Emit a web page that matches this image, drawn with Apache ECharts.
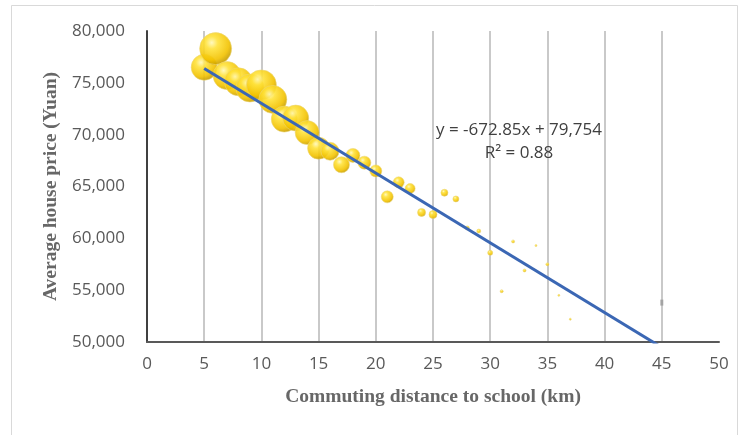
<!DOCTYPE html>
<html>
<head>
<meta charset="utf-8">
<script src="https://cdn.jsdelivr.net/npm/echarts@6/dist/echarts.min.js"></script>
<style>html,body{margin:0;padding:0;background:#fff}#c{width:746px;height:435px}</style>
</head>
<body>
<div id="c"></div>
<script>
// Data
var distanceKm = [5,6,7,8,9,10,11,12,13,14,15,16,17,18,19,20,21,22,23,24,25,26,27,28,29,30,31,32,33,34,35,36,37];
var avgPrice = [76500,78300,75700,75100,74500,74800,73400,71500,71600,70200,68700,68400,67100,68000,67300,66500,64000,65400,64800,62500,62300,64400,63800,61000,60700,58600,54900,59700,56900,59300,57500,54500,52200];
var bubbleSize = [26,32,28,28,28,30,28,26,26,24,22,18,16,14,13,12,12,11,10,8,8,7,6,4,4,5,3,3,3,2,3,2,2];
var outlierDistance = [45];
var outlierPrice = [53800];
var trendSlope = -672.85;
var trendIntercept = 79754;
var trendLabel = ['y = -672.85x + 79,754', 'R\u00b2 = 0.88'];
var xTicks = [0,5,10,15,20,25,30,35,40,45,50];
var yTicks = [50000,55000,60000,65000,70000,75000,80000];

var bubbles = distanceKm.map(function(d,i){return [d, avgPrice[i], bubbleSize[i]];});
var outliers = outlierDistance.map(function(d,i){return [d, outlierPrice[i]];});
var allX = distanceKm.concat(outlierDistance);
var xMin = Math.min.apply(null, allX), xMax = Math.max.apply(null, allX);
var trend = [[xMin, trendSlope*xMin+trendIntercept],[xMax, trendSlope*xMax+trendIntercept]];

var gridColors = xTicks.map(function(t,i){return i===xTicks.length-1 ? 'rgba(0,0,0,0)' : '#c9c9c9';});
var labelFont = '"Open Sans", "Noto Sans", sans-serif';
var chart = echarts.init(document.getElementById('c'));
chart.setOption({
  backgroundColor:'#ffffff',
  animation:false,
  grid:{left:147,right:27,top:31,bottom:93},
  xAxis:{
    type:'value', min:xTicks[0], max:xTicks[xTicks.length-1], interval:5,
    name:'Commuting distance to school (km)', nameLocation:'middle', nameGap:45,
    nameTextStyle:{fontFamily:'"Liberation Serif", serif', fontWeight:'bold', fontSize:19.5, color:'#676767'},
    axisLine:{show:true, onZero:false, lineStyle:{color:'#595959', width:2}},
    axisTick:{show:false},
    axisLabel:{fontFamily:labelFont, fontSize:17, color:'#595959', margin:14},
    splitLine:{show:true, lineStyle:{color:gridColors, width:2}}
  },
  yAxis:{
    type:'value', min:yTicks[0], max:yTicks[yTicks.length-1], interval:5000,
    name:'Average house price (Yuan)', nameLocation:'middle', nameGap:85,
    nameTextStyle:{fontFamily:'"Liberation Serif", serif', fontWeight:'bold', fontSize:19.5, color:'#676767'},
    axisLine:{show:true, lineStyle:{color:'#404040', width:2}},
    axisTick:{show:false},
    axisLabel:{fontFamily:labelFont, fontSize:17, color:'#595959', margin:22,
      formatter:function(v){return v.toLocaleString('en-US');}},
    splitLine:{show:false}
  },
  graphic:[
    {type:'rect', shape:{x:11.5,y:5.5,width:726,height:440}, style:{fill:null, stroke:'#d9d9d9', lineWidth:1}, silent:true, z:-10},
    {type:'text', x:519, y:130, style:{text:trendLabel[0], font:'17px "Open Sans", sans-serif', fill:'#404040', textAlign:'center', textVerticalAlign:'middle'}, z:100},
    {type:'text', x:519, y:153, style:{text:trendLabel[1], font:'17px "Open Sans", sans-serif', fill:'#404040', textAlign:'center', textVerticalAlign:'middle'}, z:100}
  ],
  series:[
    {
      type:'scatter', data:bubbles,
      symbolSize:function(v){return v[2];},
      itemStyle:{
        opacity:0.9,
        color:new echarts.graphic.RadialGradient(0.38,0.32,0.75,[
          {offset:0,color:'#fff8b8'},
          {offset:0.25,color:'#ffe23a'},
          {offset:0.7,color:'#f2c200'},
          {offset:1,color:'#b58e00'}
        ]),
        borderColor:'rgba(235,215,120,0.8)', borderWidth:0.8
      },
      z:2
    },
    {
      type:'scatter', data:outliers, symbol:'rect', symbolSize:[3,6],
      itemStyle:{color:'#9a9a9a'}, z:2
    },
    {
      type:'line', data:trend, showSymbol:false, symbol:'none', clip:true,
      lineStyle:{color:'#3b67b4', width:3}, z:5
    }
  ]
});
</script>
</body>
</html>
